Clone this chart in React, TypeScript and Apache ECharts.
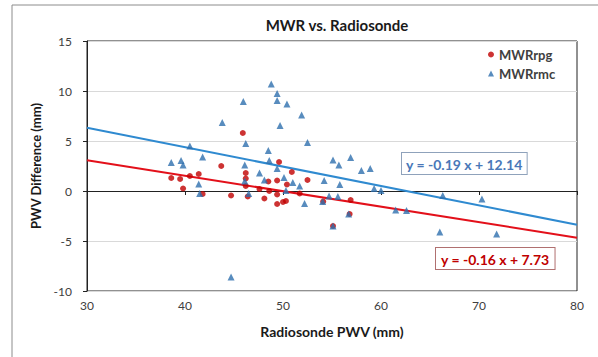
import React, { useEffect, useRef } from "react";
import * as echarts from "echarts";

const chartTitle = "MWR vs. Radiosonde";
const xTitle = "Radiosonde PWV (mm)";
const yTitle = "PWV Difference (mm)";
const seriesNames = ["MWRrpg", "MWRrmc"];

// MWRrpg (red circles): [radiosonde PWV, difference]
const rpgX = [38.6, 39.5, 40.5, 41.4, 39.8, 41.8, 43.7, 44.7, 45.9, 46.2, 46.2, 46.2, 46.4, 47.6, 48.1, 48.5, 48.6, 49.4, 49.4, 49.4, 49.6, 50.0, 50.3, 50.4, 50.9, 51.7, 52.5, 54.1, 55.1, 56.8, 56.9];
const rpgY = [1.3, 1.2, 1.5, 1.7, 0.25, -0.3, 2.5, -0.45, 5.8, 1.8, 1.25, 0.5, -0.55, 0.2, -0.75, 0.95, 0.0, 1.05, -0.35, -1.3, 2.9, -1.1, -1.0, 0.65, 1.9, -0.25, 1.1, -1.05, -3.5, -2.3, -0.9];

// MWRrmc (blue triangles)
const rmcX = [38.6, 39.6, 39.8, 40.5, 41.4, 41.5, 41.8, 43.8, 44.7, 45.95, 46.1, 46.1, 46.2, 46.5, 47.6, 48.1, 48.5, 48.6, 48.8, 49.4, 49.4, 49.4, 49.7, 50.1, 50.3, 50.4, 51.0, 51.7, 51.9, 52.2, 52.5, 54.05, 54.2, 54.7, 55.1, 55.1, 55.6, 55.7, 55.8, 56.7, 56.9, 58.0, 58.9, 59.3, 60.0, 61.5, 62.6, 66.0, 66.3, 70.3, 71.8];
const rmcY = [2.85, 3.05, 2.6, 4.5, 0.7, -0.25, 3.4, 6.85, -8.6, 8.95, 2.6, 1.0, 4.75, -0.25, 1.8, 1.1, 4.05, 3.05, 10.7, 9.75, 9.05, 2.25, 6.55, 1.35, 0.05, 8.7, 0.85, 0.5, 7.6, -1.25, 4.85, -1.05, 1.05, -0.5, 3.1, -3.5, -0.55, 2.6, 0.65, -2.3, 3.35, 2.05, 2.25, 0.25, 0.05, -1.9, -1.95, -4.1, -0.45, -0.8, -4.3];

// Linear trend lines [slope, intercept] and their labels
const rpgTrend = [-0.155, 7.73];
const rmcTrend = [-0.194, 12.14];
const rpgTrendLabel = "y = -0.16 x + 7.73";
const rmcTrendLabel = "y = -0.19 x + 12.14";

const xMin = 30, xMax = 80, xStep = 10;
const yMin = -10, yMax = 15, yStep = 5;

const FONT = "Lato, 'Open Sans', sans-serif";

export default function App() {
  const ref = useRef<HTMLDivElement>(null);
  useEffect(() => {
    if (!ref.current) return;
    const chart = echarts.init(ref.current, null, { renderer: "svg" });
    const trendPts = (c: number[]) => [
      [xMin, c[0] * xMin + c[1]],
      [xMax, c[0] * xMax + c[1]],
    ];
    chart.setOption({
      animation: false,
      backgroundColor: "#fff",
      title: {
        text: chartTitle,
        left: 332,
        top: 12,
        textAlign: "center",
        textStyle: { fontFamily: FONT, fontSize: 15, fontWeight: "bold", color: "#1a1a1a" },
      },
      grid: {
        left: 87, right: 21, top: 41, bottom: 66,
        show: true, borderColor: "#222", borderWidth: 1,
      },
      legend: {
        data: seriesNames,
        orient: "vertical",
        left: 488,
        top: 48,
        padding: 0,
        itemWidth: 6,
        itemHeight: 6,
        itemGap: 6,
        textStyle: { fontFamily: FONT, fontSize: 13, fontWeight: "bold", color: "#404040" },
      },
      xAxis: {
        type: "value", min: xMin, max: xMax, interval: xStep,
        name: xTitle, nameLocation: "middle", nameGap: 33,
        nameTextStyle: { fontFamily: FONT, fontSize: 14, fontWeight: "bold", color: "#1a1a1a" },
        axisLine: { lineStyle: { color: "#222" } },
        axisTick: { show: true, length: 4, lineStyle: { color: "#222" } },
        axisLabel: { fontFamily: FONT, fontSize: 12, color: "#404040", margin: 8 },
        splitLine: { show: false },
      },
      yAxis: {
        type: "value", min: yMin, max: yMax, interval: yStep,
        name: yTitle, nameLocation: "middle", nameGap: 43,
        nameTextStyle: { fontFamily: FONT, fontSize: 13, fontWeight: "bold", color: "#1a1a1a" },
        axisLine: { show: true, lineStyle: { color: "#222" } },
        axisTick: { show: true, length: 4, lineStyle: { color: "#222" } },
        axisLabel: { fontFamily: FONT, fontSize: 12, color: "#404040", margin: 15 },
        splitLine: { show: true, lineStyle: { color: "#d9d9d9", width: 1 } },
      },
      series: [
        {
          name: "rpgTrend", type: "line", data: trendPts(rpgTrend), showSymbol: false,
          lineStyle: { color: "#e3101a", width: 2 }, z: 1, silent: true,
        },
        {
          name: "rmcTrend", type: "line", data: trendPts(rmcTrend), showSymbol: false,
          lineStyle: { color: "#2f8ad0", width: 2 }, z: 1, silent: true,
        },
        {
          name: seriesNames[0], type: "scatter", symbol: "circle", symbolSize: 6,
          data: rpgX.map((x, i) => [x, rpgY[i]]),
          itemStyle: { color: "#c00000" }, z: 3,
        },
        {
          name: seriesNames[1], type: "scatter", symbol: "triangle", symbolSize: 7,
          data: rmcX.map((x, i) => [x, rmcY[i]]),
          itemStyle: { color: "#2e6fae" }, z: 4,
        },
      ],
      graphic: [
        {
          type: "rect", silent: true, z: -10,
          shape: { x: 12, y: 5, width: 700, height: 500 },
          style: { fill: "none", stroke: "#8c8c8c", lineWidth: 1 },
        },
        {
          type: "text", left: 401, top: 152, z: 10,
          style: {
            text: rmcTrendLabel, fontFamily: FONT, fontSize: 14, fontWeight: "bold",
            fill: "#4a78b8", backgroundColor: "#fff", borderColor: "#8fa2bb", borderWidth: 1,
            padding: [4, 4, 3, 4],
          },
        },
        {
          type: "text", left: 435, top: 247, z: 10,
          style: {
            text: rpgTrendLabel, fontFamily: FONT, fontSize: 14, fontWeight: "bold",
            fill: "#c00000", backgroundColor: "#fff", borderColor: "#b07070", borderWidth: 1,
            padding: [4, 5, 3, 5],
          },
        },
      ],
    });
    return () => chart.dispose();
  }, []);
  return (
    <div
      ref={ref}
      style={{ position: "fixed", left: 0, top: 0, width: 598, height: 357 }}
    />
  );
}
